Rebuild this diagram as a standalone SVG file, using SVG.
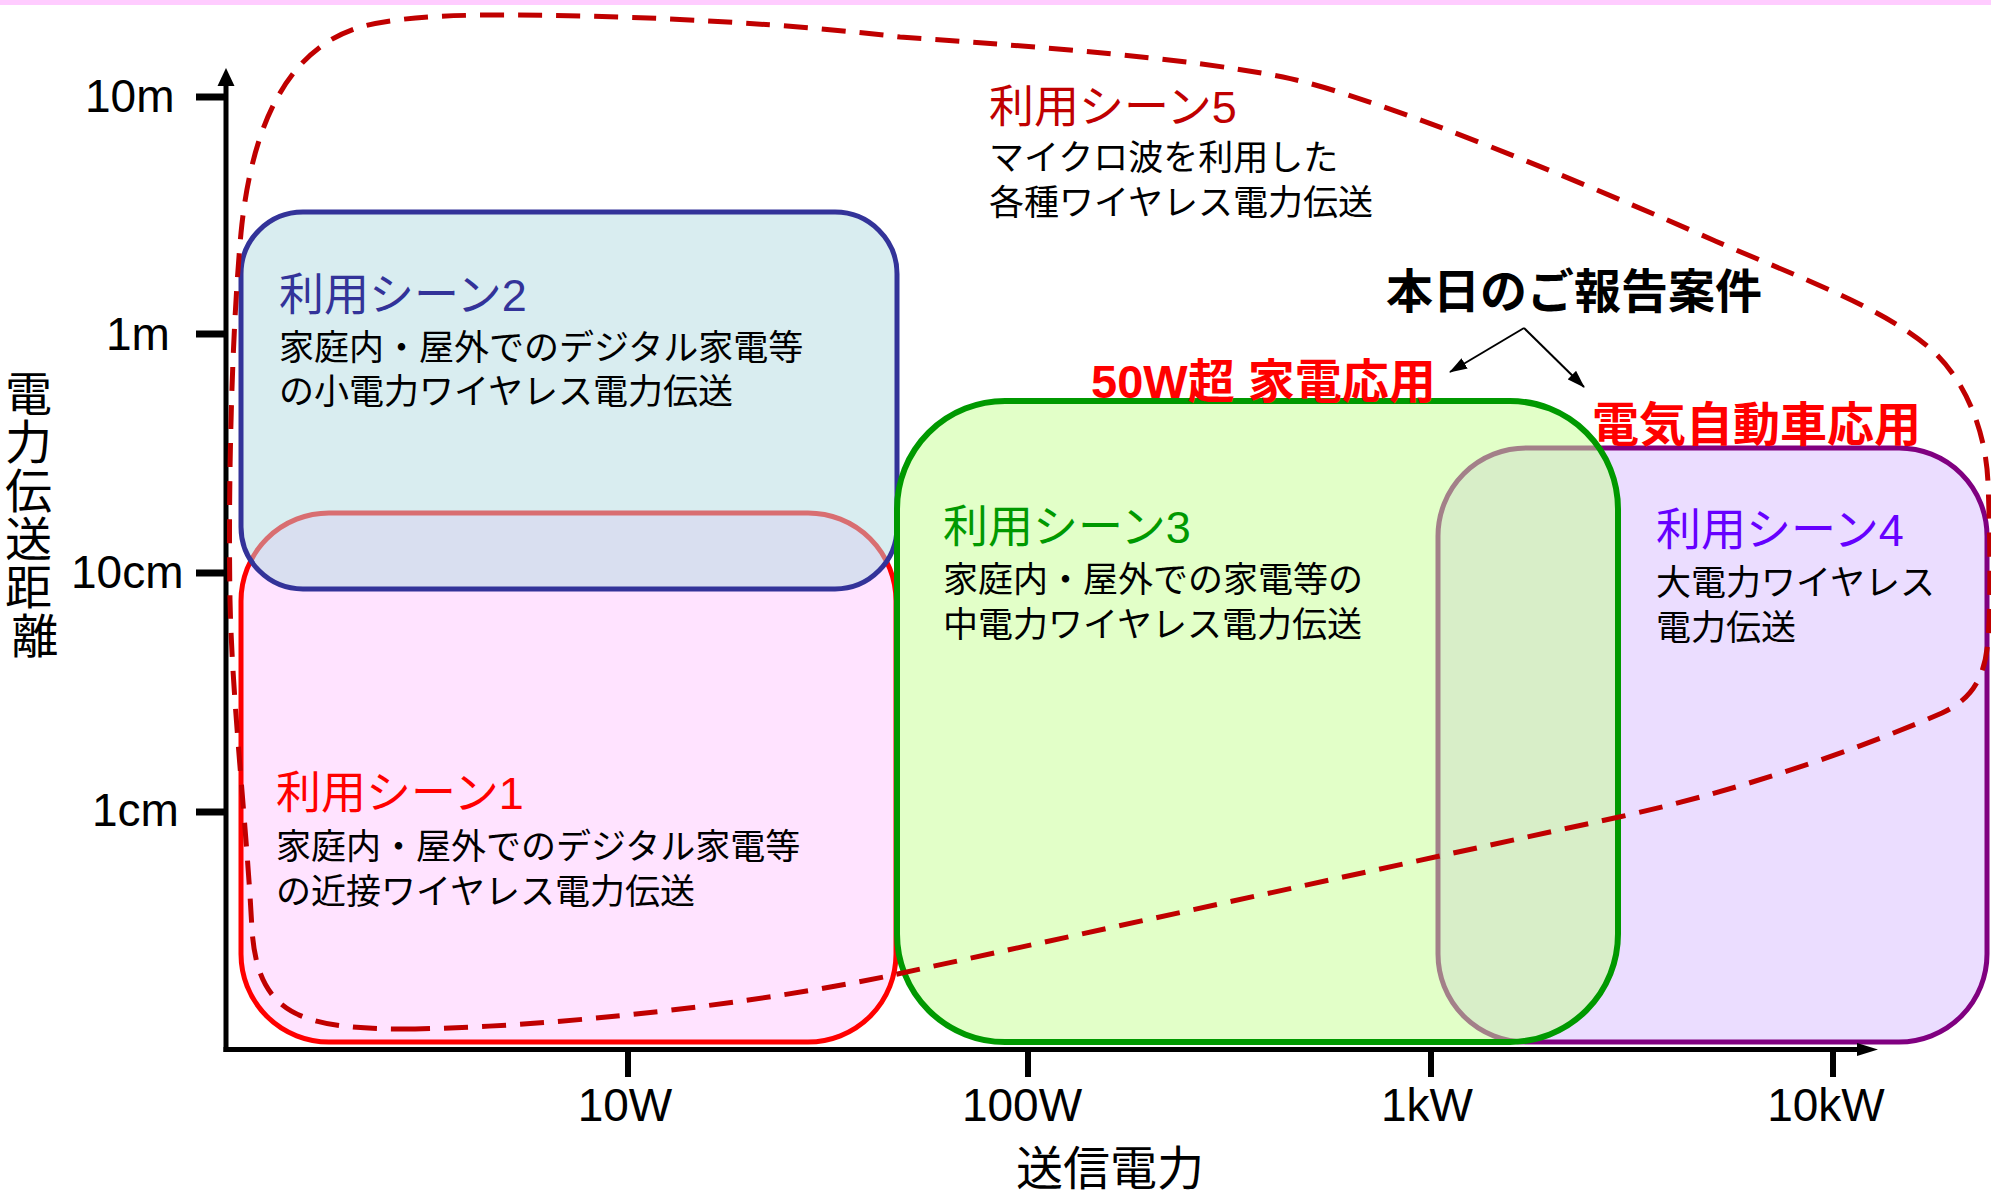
<svg xmlns="http://www.w3.org/2000/svg" width="1991" height="1195" viewBox="0 0 1991 1195">
<style>
text { font-family: "Liberation Sans", "Noto Sans CJK JP", sans-serif; }
.ax { font-size: 46px; fill: #000; }
.ttl { font-size: 45px; }
.body { font-size: 35px; fill: #000; }
.bold { font-size: 47px; font-weight: bold; }
.box { stroke-width: 5; }
</style>
<defs>
<marker id="ah" markerUnits="userSpaceOnUse" markerWidth="18" markerHeight="12" refX="17" refY="6" orient="auto">
<path d="M0,0 L18,6 L0,12 z" fill="#000"/>
</marker>
</defs>
<rect x="0" y="0" width="1991" height="5" fill="#FFCCFF"/>

<g id="scene1">
<rect class="box" x="241" y="513" width="655" height="529" rx="88" ry="88" fill="#FFE3FF" stroke="#FF0000"/>
<text class="ttl" x="276" y="809" fill="#FF0000">利用シーン1</text>
<text class="body" x="276" y="859">家庭内・屋外でのデジタル家電等</text>
<text class="body" x="276" y="904">の近接ワイヤレス電力伝送</text>
</g>

<g id="scene2">
<rect class="box" x="241" y="212" width="656" height="377" rx="62" ry="62" fill="rgb(180,220,225)" fill-opacity="0.5" stroke="#333399"/>
<text class="ttl" x="279" y="311" fill="#333399">利用シーン2</text>
<text class="body" x="279" y="360">家庭内・屋外でのデジタル家電等</text>
<text class="body" x="279" y="404">の小電力ワイヤレス電力伝送</text>
</g>

<g id="scene4">
<rect class="box" x="1438" y="448" width="549" height="594" rx="88" ry="88" fill="#EBDDFF" stroke="#800080"/>
<text class="ttl" x="1656" y="546" fill="#6600FF">利用シーン4</text>
<text class="body" x="1656" y="595">大電力ワイヤレス</text>
<text class="body" x="1656" y="640">電力伝送</text>
</g>

<g id="scene3">
<rect x="897" y="401" width="721" height="641" rx="108" ry="108" fill="rgb(197,255,145)" fill-opacity="0.5" stroke="#009900" stroke-width="6"/>
<text class="ttl" x="943" y="543" fill="#009900">利用シーン3</text>
<text class="body" x="943" y="592">家庭内・屋外での家電等の</text>
<text class="body" x="943" y="637">中電力ワイヤレス電力伝送</text>
</g>

<g id="axes">
<line x1="226" y1="84" x2="226" y2="1052" stroke="#000" stroke-width="5"/>
<line x1="223.5" y1="1049.5" x2="1860" y2="1049.5" stroke="#000" stroke-width="5"/>
<polygon points="226,68 217.5,86 234.5,86" fill="#000"/>
<polygon points="1878,1049.5 1857,1043 1857,1056" fill="#000"/>
<g stroke="#000" stroke-width="7">
<line x1="196" y1="97" x2="226" y2="97"/>
<line x1="196" y1="334" x2="226" y2="334"/>
<line x1="196" y1="573" x2="226" y2="573"/>
<line x1="196" y1="812" x2="226" y2="812"/>
</g>
<g stroke="#000" stroke-width="6">
<line x1="628" y1="1049" x2="628" y2="1077"/>
<line x1="1028" y1="1049" x2="1028" y2="1077"/>
<line x1="1431" y1="1049" x2="1431" y2="1077"/>
<line x1="1833" y1="1049" x2="1833" y2="1077"/>
</g>
<text class="ax" x="85" y="112">10m</text>
<text class="ax" x="106" y="350">1m</text>
<text class="ax" x="71" y="588">10cm</text>
<text class="ax" x="92" y="826">1cm</text>
<text class="ax" x="625" y="1121" text-anchor="middle">10W</text>
<text class="ax" x="1022" y="1121" text-anchor="middle">100W</text>
<text class="ax" x="1427" y="1121" text-anchor="middle">1kW</text>
<text class="ax" x="1826" y="1121" text-anchor="middle">10kW</text>
<text x="1016" y="1185" font-size="47">送信電力</text>
<text font-size="47" text-anchor="middle">
<tspan x="35" y="411">電</tspan>
<tspan x="35" y="459">力</tspan>
<tspan x="35" y="508">伝</tspan>
<tspan x="35" y="556">送</tspan>
<tspan x="35" y="604">距</tspan>
<tspan x="35" y="653">離</tspan>
</text>
</g>

<g id="scene5">
<path d="M 415,1029 C 300,1030 258,1015 252,930 C 247,830 232,700 230,600 C 228,480 232,330 241,233 C 252,120 290,50 357,28 C 390,18 440,15 500,15 C 650,15 800,25 900,37 C 1040,47 1180,57 1283,77 C 1380,97 1600,190 1713,240 C 1800,278 1890,310 1935,353 C 1965,382 1986,430 1988,483 C 1990,530 1991,600 1988,640 C 1985,680 1970,700 1942,713 C 1880,740 1760,786 1619,817 L 893,975 C 800,995 600,1025 415,1029 Z" fill="none" stroke="#C00000" stroke-width="5" stroke-dasharray="24 14"/>
<text class="ttl" x="989" y="123" fill="#C00000">利用シーン5</text>
<text class="body" x="989" y="170">マイクロ波を利用した</text>
<text class="body" x="989" y="215">各種ワイヤレス電力伝送</text>
</g>

<g id="report-label">
<text class="bold" x="1386" y="308" fill="#000">本日のご報告案件</text>
</g>
<g id="label-50w">
<text class="bold" x="1091" y="398" fill="#FF0000">50W超 家電応用</text>
</g>
<g id="label-ev">
<text class="bold" x="1592" y="441" fill="#FF0000">電気自動車応用</text>
</g>

<g id="connectors" stroke="#000" stroke-width="2" fill="none">
<line x1="1524" y1="328" x2="1450" y2="372" marker-end="url(#ah)"/>
<line x1="1524" y1="328" x2="1584" y2="387" marker-end="url(#ah)"/>
</g>
</svg>
